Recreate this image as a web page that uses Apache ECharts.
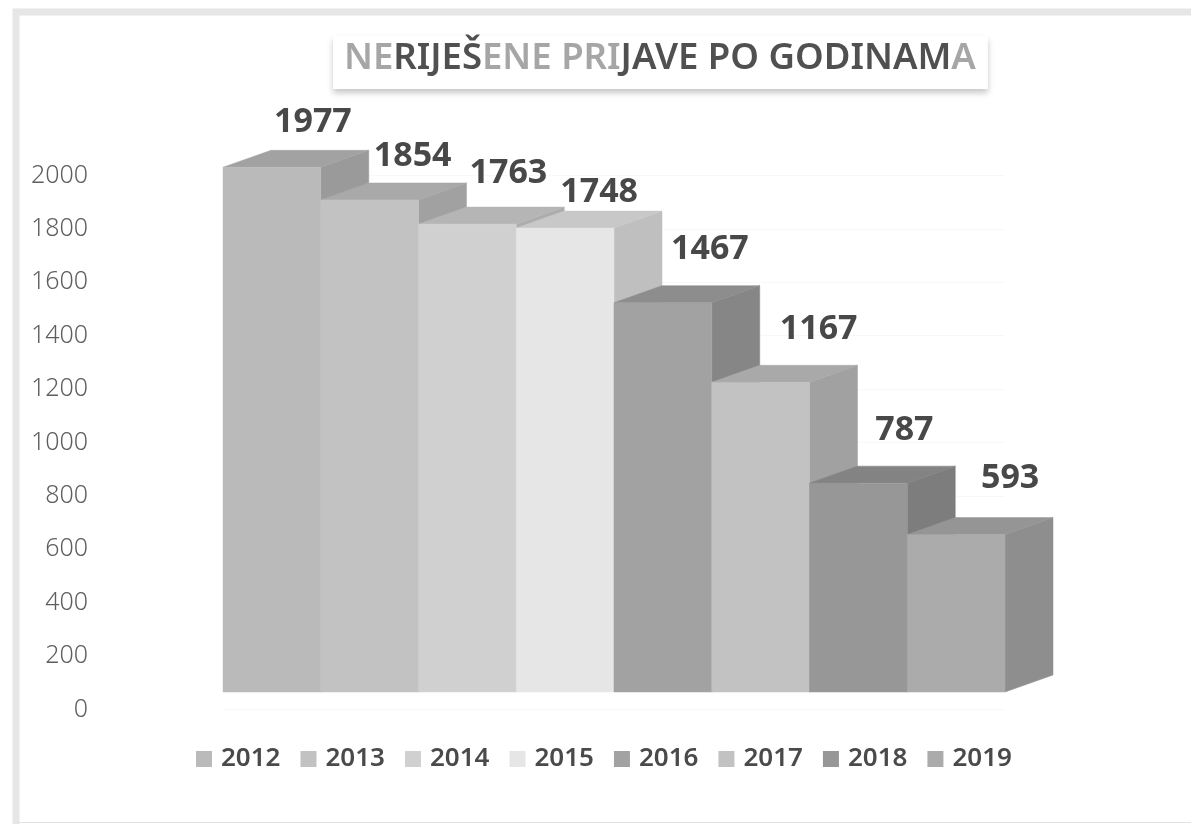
<!DOCTYPE html>
<html>
<head>
<meta charset="utf-8">
<style>
  html, body { margin: 0; background: #fff; }
  #chart { width: 1191px; height: 824px; }
</style>
<script src="https://cdn.jsdelivr.net/npm/echarts@6/dist/echarts.min.js"></script>
</head>
<body>
<div id="chart"></div>
<script>
const years = ["2012", "2013", "2014", "2015", "2016", "2017", "2018", "2019"];
const values = [1977, 1854, 1763, 1748, 1467, 1167, 787, 593];
const shades = ["#bababa", "#c2c2c2", "#d0d0d0", "#e6e6e6", "#a2a2a2", "#c2c2c2", "#979797", "#ababab"];
const yTicks = { min: 0, max: 2000, step: 200 };

// value labels sit by hand in the original, so each one has its own nudge
const labelNudgeX = [41, 43, 41, 34, 47, 58, 46, 54];
const labelNudgeY = [-45, -44, -51, -36, -53, -53, -53, -56];

// fake 3D: how far the front face is lifted off the axis, and how deep the box is
const liftFront = 17.5;
const depthX = 48;
const depthY = 17;
const frontScale = 0.994;

const FONT = '"Noto Sans", sans-serif';

// color.lift only lightens, so mix with black for the shaded faces
const darken = (color, amount) => echarts.color.lerp(amount, [color, "#000000"]);

const renderBox = (params, api) => {
  const i = params.seriesIndex;
  const zero = api.coord([api.value(0), 0]);
  const top = api.coord([api.value(0), api.value(1)]);
  const w = api.size([1, 0])[0];
  const color = shades[i];

  const x0 = zero[0] - w / 2;
  const x1 = x0 + w;
  const yBase = zero[1] - liftFront;
  const yTop = yBase - (zero[1] - top[1]) * frontScale;

  const face = (points, fill) => ({
    type: "polygon",
    shape: { points },
    style: { fill, stroke: fill, lineWidth: 0.5 },
  });

  return {
    type: "group",
    children: [
      // side / top / front
      face([[x1, yTop], [x1 + depthX, yTop - depthY], [x1 + depthX, yBase - depthY], [x1, yBase]],
        darken(color, 0.17)),
      face([[x0, yTop], [x0 + depthX, yTop - depthY], [x1 + depthX, yTop - depthY], [x1, yTop]],
        darken(color, 0.13)),
      face([[x0, yTop], [x1, yTop], [x1, yBase], [x0, yBase]], color),
      {
        type: "text",
        z2: 10,
        style: {
          text: String(api.value(1)),
          x: zero[0] + labelNudgeX[i],
          y: yTop + labelNudgeY[i],
          align: "center",
          verticalAlign: "middle",
          fill: "#484848",
          font: "bold 34px " + FONT,
        },
      },
    ],
  };
};

const chart = echarts.init(document.getElementById("chart"));

const option = {
  animation: false,
  backgroundColor: "#fff",
  title: {
    left: 333,
    top: 36,
    padding: [4, 12, 12, 11],
    backgroundColor: "#fff",
    shadowColor: "rgba(0,0,0,0.22)",
    shadowBlur: 6,
    shadowOffsetY: 4,
    text: "{f|NE}{d|RIJEŠ}{f|ENE PRI}{d|JAVE PO GODINAM}{f|A}",
    textStyle: {
      rich: {
        d: { fontFamily: FONT, fontSize: 36.5, fontWeight: 600, color: "#505050" },
        f: { fontFamily: FONT, fontSize: 36.5, fontWeight: 600, color: "#a6a6a6" },
      },
    },
  },
  legend: {
    left: 191,
    top: 741,
    data: years,
    icon: "rect",
    itemWidth: 16,
    itemHeight: 16,
    itemGap: 20,
    textStyle: { fontFamily: FONT, fontSize: 26, fontWeight: 600, color: "#4a4a4a", padding: [0, 0, 0, 4] },
  },
  grid: { left: 223, top: 175.5, width: 782, height: 534 },
  xAxis: { type: "category", data: years, show: false },
  yAxis: {
    type: "value",
    min: yTicks.min,
    max: yTicks.max,
    interval: yTicks.step,
    axisLine: { show: false },
    axisTick: { show: false },
    axisLabel: {
      margin: 135,
      formatter: (v) => String(v),
      fontFamily: FONT,
      fontSize: 25,
      fontWeight: 300,
      color: "#5e5e5e",
    },
    splitLine: { lineStyle: { color: "#f8f8f8" } },
  },
  // the scan's grey edge: heavy along the top and left, a hairline at the bottom
  graphic: [
    {
      type: "polyline",
      silent: true,
      shape: { points: [[1191, 12], [16, 12], [16, 824]] },
      style: { fill: "none", stroke: "#e6e6e6", lineWidth: 7 },
    },
    {
      type: "line",
      silent: true,
      shape: { x1: 16, y1: 822.5, x2: 1191, y2: 822.5 },
      style: { stroke: "#e2e2e2", lineWidth: 1 },
    },
  ],
  series: years.map((year, i) => ({
    name: year,
    type: "custom",
    renderItem: renderBox,
    itemStyle: { color: shades[i] },
    encode: { x: 0, y: 1 },
    data: [[year, values[i]]],
  })),
};

chart.setOption(option);
</script>
</body>
</html>
